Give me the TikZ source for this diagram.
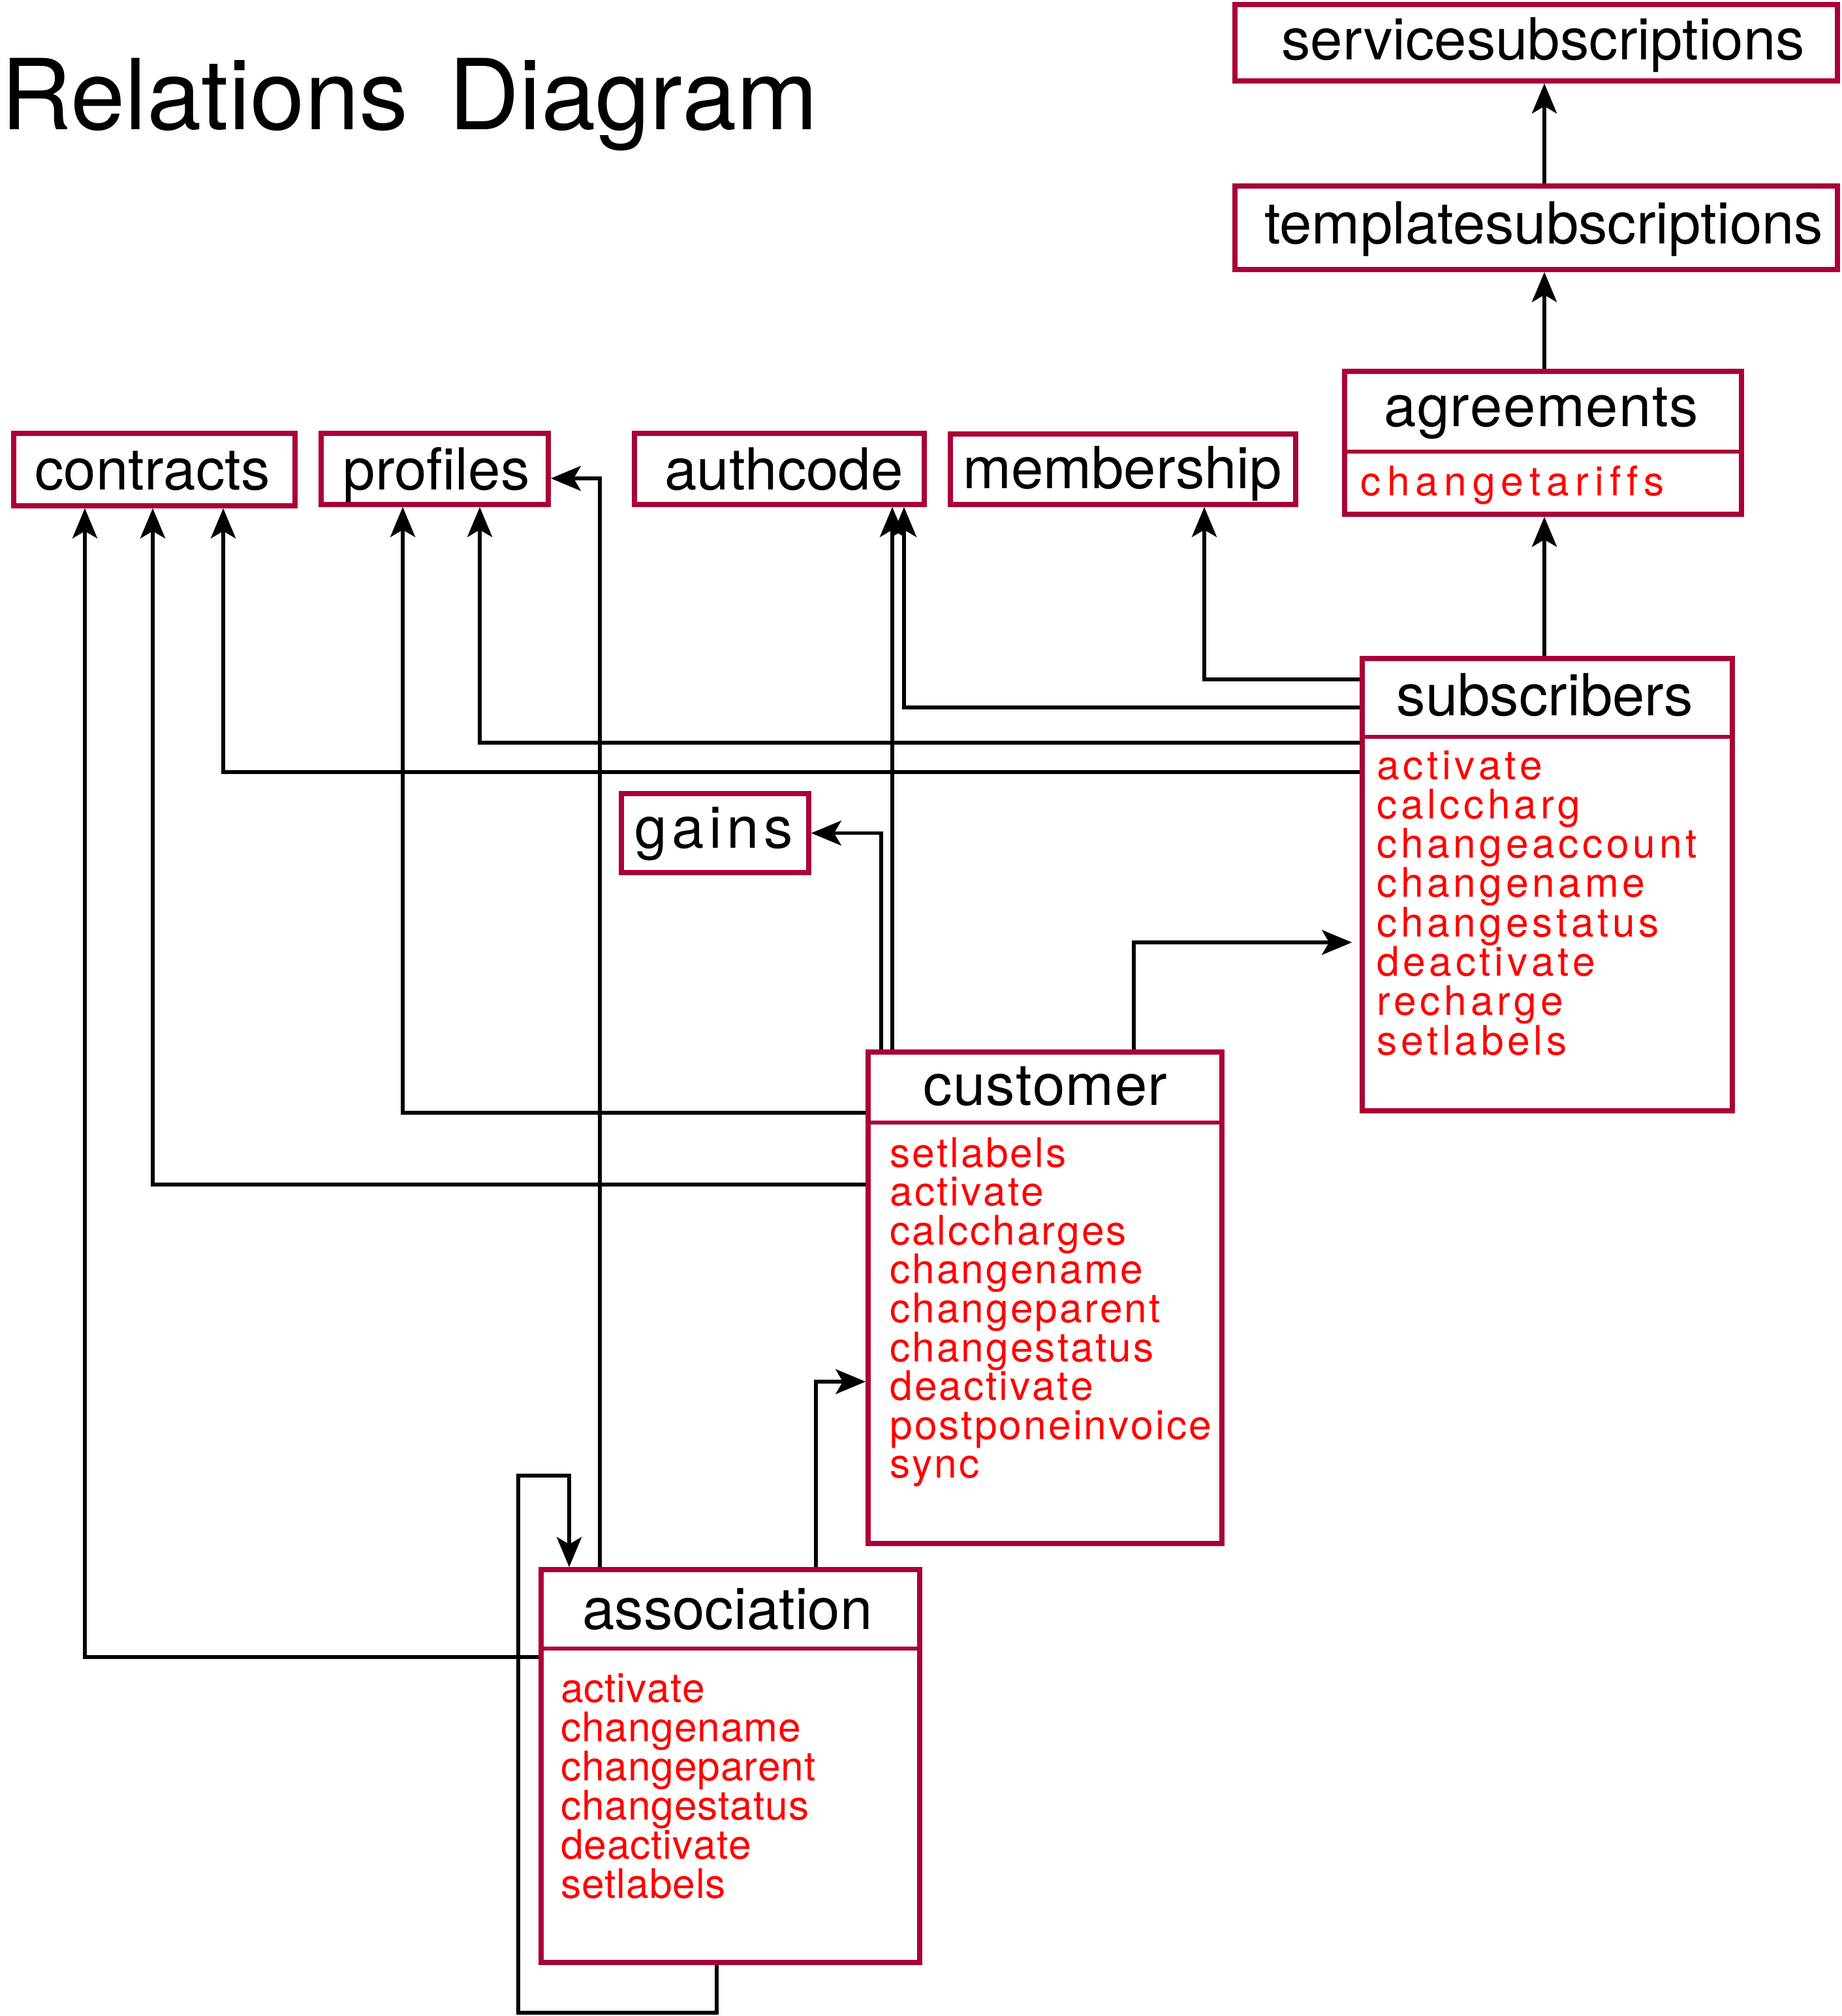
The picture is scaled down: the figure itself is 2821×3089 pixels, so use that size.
\documentclass[tikz,border=0pt]{standalone}
\usepackage{fontspec}
\setmainfont{TeX Gyre Heros}
\usetikzlibrary{arrows.meta,fit}
\definecolor{boxc}{RGB}{170,0,55}
\definecolor{methc}{RGB}{255,0,0}
\def\ltrsploop#1{\ifx\relax#1\else#1\hskip\ltrspamt\relax\expandafter\ltrsploop\fi}
\newcommand\ltrsp[2]{{\def\ltrspamt{#1}\edef\ltrsptmp{#2}\expandafter\ltrsploop\ltrsptmp\relax}}
\begin{document}
\begin{tikzpicture}[x=0.25pt,y=-0.25pt,
  box/.style={draw=boxc, line width=1.9pt, inner sep=0pt},
  divider/.style={draw=boxc, line width=1.5pt},
  conn/.style={draw=black, line width=1.4pt, -{Stealth[length=11.5pt,width=9.5pt,inset=2.75pt]}},
  ttl/.style={inner sep=0pt, anchor=base, font=\fontsize{22.2pt}{27pt}\selectfont},
  meth/.style={inner sep=0pt, anchor=base west, text=methc, font=\fontsize{15.6pt}{15pt}\selectfont},
]
\fill[white] (0,0) rectangle (2821,3089);
\useasboundingbox (0,0) rectangle (2821,3089);

\node[inner sep=0pt, anchor=base west, font=\fontsize{37.5pt}{45pt}\selectfont] (title) at (1,199) {Relations\hspace{15.5pt}Diagram};

% boxes
\node[box, fit={(1892,7) (2815,124)}] (serv) {};
\node[ttl] (servt) at (2364,91.5) {servicesubscriptions};
\node[box, fit={(1892,285) (2815,413)}] (templ) {};
\node[ttl] (templt) at (2365,374) {templatesubscriptions};
\node[box, fit={(2060,569) (2668,788)}] (agr) {};
\node[ttl] (agrt) at (2361,654) {\ltrsp{0.35pt}{agreements}};
\draw[divider] (agr.west |- 0,692) -- (agr.east |- 0,692);
\node[meth] (agrm0) at (2084,760) {\ltrsp{2.25pt}{changetariffs}};

\node[box, fit={(21,664) (452,775)}] (contr) {};
\node[ttl] (contrt) at (233.5,751) {contracts};
\node[box, fit={(492,664) (840,773)}] (prof) {};
\node[ttl] (proft) at (668.5,751) {profiles};
\node[box, fit={(972,664) (1416,773)}] (auth) {};
\node[ttl] (autht) at (1201,751) {authcode};
\node[box, fit={(1456,665) (1985,773)}] (memb) {};
\node[ttl] (membt) at (1719.5,749) {membership};
\node[box, fit={(952,1216) (1239,1337)}] (gains) {};
\node[ttl, anchor=base west] (gainst) at (972,1299) {\ltrsp{1.85pt}{gains}};

\node[box, fit={(2087,1009) (2654,1702)}] (subs) {};
\node[ttl] (subst) at (2367,1096) {subscribers};
\draw[divider] (subs.west |- 0,1129) -- (subs.east |- 0,1129);
\foreach \mname [count=\i from 0] in {activate,calccharg,changeaccount,changename,changestatus,deactivate,recharge,setlabels}
  \node[meth] (subsm\i) at (2108.5,{1194+60.3*\i}) {\ltrsp{1.4pt}{\mname}};

\node[box, fit={(1330,1612) (1872,2365)}] (cust) {};
\node[ttl] (custt) at (1601.5,1693) {\ltrsp{0.3pt}{customer}};
\draw[divider] (cust.west |- 0,1720) -- (cust.east |- 0,1720);
\foreach \mname [count=\i from 0] in {setlabels,activate,calccharges,changename,changeparent,changestatus,deactivate,postponeinvoice,sync}
  \node[meth] (custm\i) at (1362.5,{1788+59.6*\i}) {\ltrsp{0.75pt}{\mname}};

\node[box, fit={(829,2405) (1409,3007)}] (assoc) {};
\node[ttl] (assoct) at (1114.5,2496) {association};
\draw[divider] (assoc.west |- 0,2526) -- (assoc.east |- 0,2526);
\foreach \mname [count=\i from 0] in {activate,changename,changeparent,changestatus,deactivate,setlabels}
  \node[meth] (assocm\i) at (858.5,{2608+60*\i}) {\ltrsp{0.2pt}{\mname}};

% connectors
\draw[conn] (templ.north -| 2366,0) -- (serv.south -| 2366,0);
\draw[conn] (agr.north -| 2366,0) -- (templ.south -| 2366,0);
\draw[conn] (subs.north -| 2366,0) -- (agr.south -| 2366,0);
\draw[conn] (subs.west |- 0,1041) -| (memb.south -| 1845,0);
\draw[conn] (subs.west |- 0,1084) -| (auth.south -| 1385,0);
\draw[conn] (subs.west |- 0,1138) -| (prof.south -| 735,0);
\draw[conn] (subs.west |- 0,1183) -| (contr.south -| 342,0);
\draw[conn] (cust.north -| 1367,0) -- (auth.south -| 1367,0);
\draw[conn] (cust.north -| 1350,0) |- (gains.east);
\draw[conn, shorten >=3pt] (cust.north -| 1737,0) |- (subs.west |- 0,1444);
\draw[conn] (cust.west |- 0,1705) -| (prof.south -| 617,0);
\draw[conn] (cust.west |- 0,1815) -| (contr.south -| 234,0);
\draw[conn] (assoc.north -| 919,0) |- (prof.east |- 0,733);
\draw[conn] (assoc.north -| 1250,0) |- (cust.west |- 0,2117);
\draw[conn] (assoc.west |- 0,2539) -| (contr.south -| 130,0);
\draw[conn] (assoc.south -| 1098,0) |- (794,3084) -- (794,2261) -| (assoc.north -| 872,0);
\end{tikzpicture}
\end{document}
